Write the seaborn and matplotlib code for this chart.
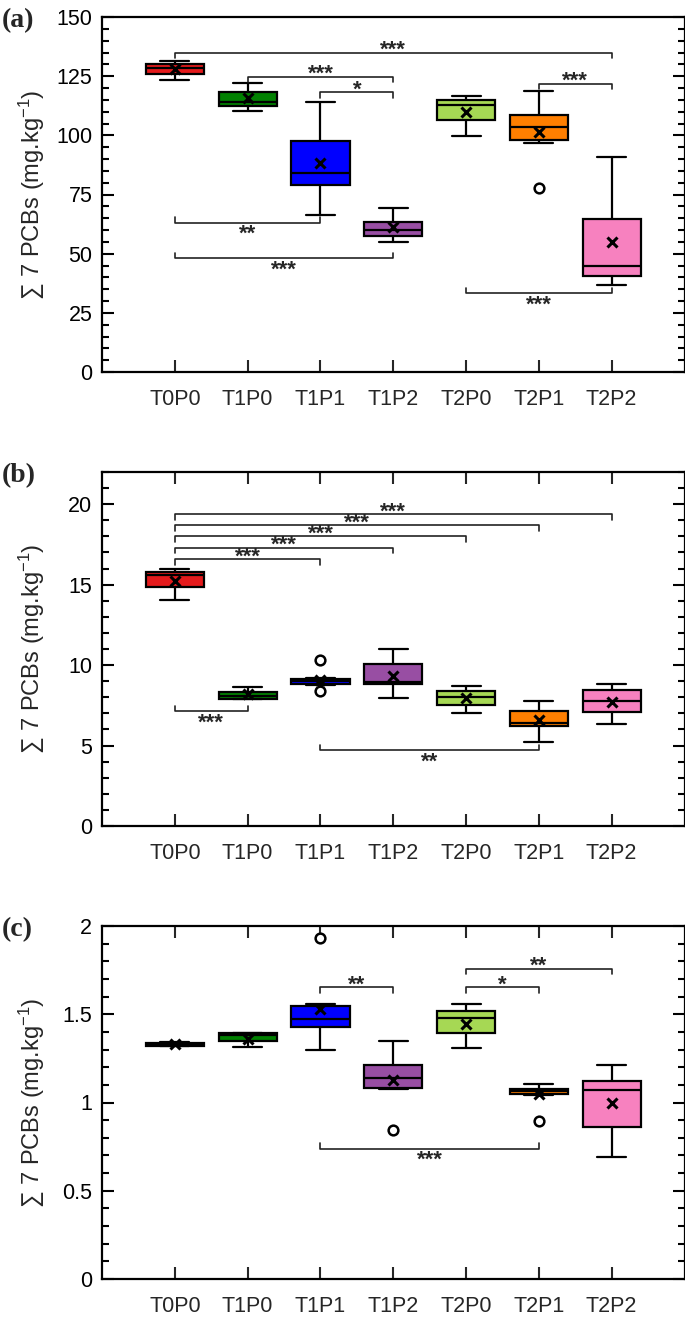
import matplotlib
matplotlib.use("Agg")
import matplotlib.pyplot as plt
from matplotlib.ticker import MultipleLocator, FuncFormatter
import pandas as pd
import seaborn as sns

groups = ['T0P0', 'T1P0', 'T1P1', 'T1P2', 'T2P0', 'T2P1', 'T2P2']
box_colors = ['#e41a1c', '#008000', '#0000ff', '#984ea3', '#a6d854', '#ff7f00', '#f781bf']

# panel (a) - box summary
a_low = [123.2, 110.1, 66.5, 55.0, 99.7, 96.9, 36.6]
a_q1 = [125.9, 112.2, 79.0, 57.3, 106.3, 97.9, 40.7]
a_med = [128.6, 114.2, 84.2, 60.2, 112.8, 103.4, 44.9]
a_q3 = [130.1, 118.3, 97.7, 63.2, 114.8, 108.6, 64.8]
a_high = [131.5, 122.0, 114.2, 69.4, 116.7, 118.7, 91.0]
a_mean = [127.9, 115.6, 88.1, 61.1, 110.0, 101.5, 54.8]
a_out_grp = ['T2P1']
a_out_val = [77.6]
# (group1, group2, level, label, side)
a_brackets = [
    ('T0P0', 'T2P2', 134.9, '***', 'up'),
    ('T1P0', 'T1P2', 124.8, '***', 'up'),
    ('T1P1', 'T1P2', 118.2, '*', 'up'),
    ('T2P1', 'T2P2', 121.9, '***', 'up'),
    ('T0P0', 'T1P1', 63.1, '**', 'down'),
    ('T0P0', 'T1P2', 48.0, '***', 'down'),
    ('T2P0', 'T2P2', 33.2, '***', 'down'),
]

# panel (b)
b_low = [14.07, 7.90, 8.79, 7.94, 7.05, 5.22, 6.34]
b_q1 = [14.86, 7.92, 8.81, 8.81, 7.50, 6.20, 7.09]
b_med = [15.60, 8.10, 9.02, 8.97, 8.04, 6.40, 7.77]
b_q3 = [15.80, 8.31, 9.14, 10.05, 8.39, 7.17, 8.46]
b_high = [15.96, 8.62, 9.20, 11.00, 8.73, 7.79, 8.81]
b_mean = [15.20, 8.20, 9.08, 9.35, 7.96, 6.57, 7.69]
b_out_grp = ['T1P1', 'T1P1']
b_out_val = [10.30, 8.39]
b_brackets = [
    ('T0P0', 'T2P2', 19.38, '***', 'up'),
    ('T0P0', 'T2P1', 18.70, '***', 'up'),
    ('T0P0', 'T2P0', 18.00, '***', 'up'),
    ('T0P0', 'T1P2', 17.30, '***', 'up'),
    ('T0P0', 'T1P1', 16.60, '***', 'up'),
    ('T0P0', 'T1P0', 7.13, '***', 'down'),
    ('T1P1', 'T2P1', 4.70, '**', 'down'),
]

# panel (c)
c_low = [1.318, 1.317, 1.297, 1.074, 1.308, 1.045, 0.693]
c_q1 = [1.320, 1.350, 1.430, 1.080, 1.394, 1.050, 0.864]
c_med = [1.327, 1.380, 1.475, 1.137, 1.479, 1.065, 1.070]
c_q3 = [1.335, 1.392, 1.548, 1.213, 1.519, 1.077, 1.121]
c_high = [1.340, 1.392, 1.559, 1.346, 1.559, 1.105, 1.211]
c_mean = [1.330, 1.360, 1.527, 1.127, 1.447, 1.046, 0.995]
c_out_grp = ['T1P1', 'T1P2', 'T2P1']
c_out_val = [1.932, 0.842, 0.894]
c_brackets = [
    ('T1P1', 'T1P2', 1.654, '**', 'up'),
    ('T2P0', 'T2P1', 1.654, '*', 'up'),
    ('T2P0', 'T2P2', 1.758, '**', 'up'),
    ('T1P1', 'T2P1', 0.739, '***', 'down'),
]

sns.set_style("ticks")
plt.rcParams['font.family'] = ['Liberation Sans', 'DejaVu Sans']
plt.rcParams['mathtext.fontset'] = 'custom'
plt.rcParams['mathtext.rm'] = 'Liberation Sans'
plt.rcParams['mathtext.it'] = 'Liberation Sans:italic'
plt.rcParams['mathtext.bf'] = 'Liberation Sans:bold'

W, H = 685, 1323
fig = plt.figure(figsize=(W / 100, H / 100), dpi=100)


def panel(rect, letter, low, q1, med, q3, high, mean, out_grp, out_val,
          brackets, ymax, major, minor, top_ticks):
    ax = fig.add_axes(rect)
    rows = []
    for i, g in enumerate(groups):
        for v in (low[i], q1[i], med[i], q3[i], high[i]):
            rows.append((g, v))
    df = pd.DataFrame(rows, columns=['group', 'value'])

    sns.boxplot(data=df, x='group', y='value', hue='group', order=groups,
                hue_order=groups, palette=box_colors, saturation=1, width=0.8,
                whis=(0, 100), showfliers=False, linecolor='black',
                linewidth=1.6, legend=False, ax=ax)
    sns.pointplot(x=groups, y=mean, order=groups, errorbar=None, color='black',
                  linestyle='none', marker='x', markersize=6.5,
                  markeredgewidth=2.2, zorder=6, ax=ax)
    sns.stripplot(x=out_grp, y=out_val, order=groups, jitter=False,
                  color='white', edgecolor='black', linewidth=1.8, size=7,
                  zorder=6, ax=ax)

    tip = ymax * 0.016
    for g1, g2, lev, lab, side in brackets:
        x1, x2 = groups.index(g1), groups.index(g2)
        d = -tip if side == 'up' else tip
        ax.plot([x1, x1, x2, x2], [lev + d, lev, lev, lev + d],
                color='#222222', lw=1.2, zorder=4)
        off = -2.5 if side == 'up' else -12.5
        ax.annotate(lab, ((x1 + x2) / 2, lev), xytext=(0, off),
                    textcoords='offset points', ha='center', va='baseline',
                    fontsize=16, fontweight='bold')

    ax.set_xlim(-1, 7)
    ax.set_ylim(0, ymax)
    ax.set_xlabel('')
    ax.set_ylabel('\u2211 7 PCBs (mg.kg$^{-1}$)', fontsize=17)
    ax.yaxis.set_label_coords(-0.094, 0.5)
    ax.yaxis.set_major_locator(MultipleLocator(major))
    ax.yaxis.set_minor_locator(MultipleLocator(minor))
    ax.yaxis.set_major_formatter(FuncFormatter(lambda v, p: f'{v:g}'))
    ax.tick_params(axis='y', which='both', direction='in', left=True,
                   right=True, width=1.5, colors='black')
    ax.tick_params(axis='y', which='major', length=8.5, labelsize=15.5, pad=7)
    ax.tick_params(axis='y', which='minor', length=5)
    ax.tick_params(axis='x', which='major', direction='in', length=8.5,
                   width=1.5, bottom=True, top=top_ticks, labelsize=15.5, pad=12)
    ax.tick_params(axis='x', which='minor', bottom=False, top=False)
    for s in ax.spines.values():
        s.set_visible(True)
        s.set_linewidth(1.6)
        s.set_color('black')

    fig.text(2 / W, rect[1] + rect[3] - 4 / H, letter, ha='left', va='center',
             family='Liberation Serif', fontweight='bold', fontsize=20)
    return ax


left = 102 / W
width = 582.5 / W
panel([left, 1 - 372 / H, width, 355 / H], '(a)', a_low, a_q1, a_med, a_q3,
      a_high, a_mean, a_out_grp, a_out_val, a_brackets, 150, 25, 5, False)
panel([left, 1 - 826 / H, width, 354 / H], '(b)', b_low, b_q1, b_med, b_q3,
      b_high, b_mean, b_out_grp, b_out_val, b_brackets, 22, 5, 1, True)
panel([left, 1 - 1279 / H, width, 353 / H], '(c)', c_low, c_q1, c_med, c_q3,
      c_high, c_mean, c_out_grp, c_out_val, c_brackets, 2, 0.5, 0.1, True)

fig.savefig('out.png', dpi=100)
